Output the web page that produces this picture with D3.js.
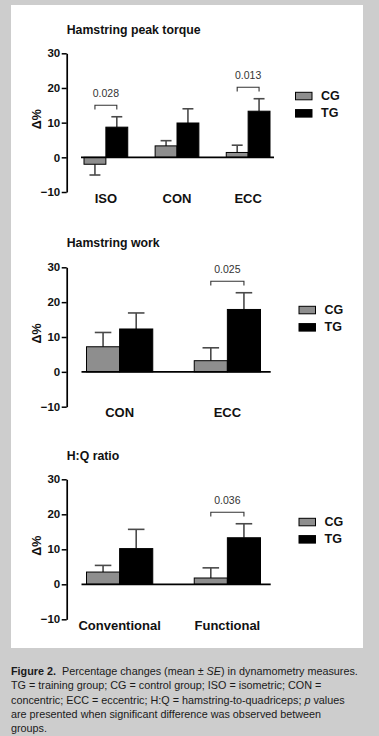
<!DOCTYPE html>
<html>
<head>
<meta charset="utf-8">
<script src="https://cdn.jsdelivr.net/npm/d3@7/dist/d3.min.js"></script>
<style>
  html, body { margin: 0; padding: 0; background: #cdcdcd; }
  svg { display: block; }
  text { font-family: "Liberation Sans", Arial, Helvetica, sans-serif; }
</style>
</head>
<body>
<svg id="chart" width="379" height="736"></svg>
<script>
// ---------- data ----------
const groups = ["CG", "TG"];
const yTicks = [-10, 0, 10, 20, 30];

const torqueCategories = ["ISO", "CON", "ECC"];
const torqueCG   = [-2.0, 3.3, 1.4];
const torqueCGse = [3.1, 1.5, 2.1];
const torqueTG   = [8.7, 9.9, 13.3];
const torqueTGse = [3.0, 4.1, 3.6];
const torqueP    = ["0.028", null, "0.013"];

const workCategories = ["CON", "ECC"];
const workCG   = [7.2, 3.2];
const workCGse = [4.1, 3.7];
const workTG   = [12.3, 17.9];
const workTGse = [4.6, 4.8];
const workP    = [null, "0.025"];

const ratioCategories = ["Conventional", "Functional"];
const ratioCG   = [3.5, 1.8];
const ratioCGse = [1.9, 2.9];
const ratioTG   = [10.2, 13.3];
const ratioTGse = [5.5, 4.0];
const ratioP    = [null, "0.036"];

const panelTitles = ["Hamstring peak torque", "Hamstring work", "H:Q ratio"];
const yLabel = "Δ%";

// ---------- drawing ----------
const svg = d3.select("#chart");
svg.append("rect").attr("x", 0).attr("y", 0).attr("width", 379).attr("height", 736).attr("fill", "#cdcdcd");
svg.append("rect").attr("x", 11).attr("y", 5).attr("width", 352).attr("height", 643).attr("fill", "#ffffff");

const colors = { CG: "#8e8e8e", TG: "#000000" };

function drawPanel(cfg) {
  const g = svg.append("g");
  const y = d3.scaleLinear().domain([-10, 30]).range([cfg.yBottom, cfg.yTop]);
  const x = d3.scaleBand().domain(cfg.categories).range(cfg.xRange).paddingInner(0.385).paddingOuter(0);
  const xs = d3.scaleBand().domain(groups).range([0, x.bandwidth()]).padding(0);

  // title
  g.append("text").attr("x", 66.7).attr("y", cfg.titleY)
    .attr("font-size", 12.3).attr("font-weight", "bold").attr("fill", "#111")
    .text(cfg.title);

  // y axis
  const yAxis = d3.axisLeft(y).tickValues(yTicks).tickSize(5).tickSizeOuter(0).tickPadding(1.5).tickFormat(d3.format("d"));
  const ya = g.append("g").attr("transform", "translate(66.7,0)").call(yAxis);
  ya.select(".domain").attr("stroke", "#000").attr("stroke-width", 1.7);
  ya.selectAll(".tick line").attr("stroke", "#000").attr("stroke-width", 1.5);
  ya.selectAll(".tick text").attr("font-size", 11.5).attr("font-weight", "bold").attr("fill", "#111")
    .attr("font-family", "Liberation Sans, Arial, sans-serif");

  // y label
  g.append("text")
    .attr("transform", `translate(41,${y(11)}) rotate(-90)`)
    .attr("text-anchor", "middle").attr("font-size", 12.5).attr("font-weight", "bold").attr("fill", "#111")
    .text(yLabel);

  const rows = cfg.categories.map((c, i) => ({
    cat: c,
    vals: [
      { grp: "CG", v: cfg.cg[i], se: cfg.cgse[i] },
      { grp: "TG", v: cfg.tg[i], se: cfg.tgse[i] }
    ],
    p: cfg.p[i]
  }));

  // bars
  rows.forEach(r => {
    r.vals.forEach(d => {
      const bx = x(r.cat) + xs(d.grp);
      const bw = xs.bandwidth();
      const cx = bx + bw / 2;
      // error bar (drawn first so bar covers inner part)
      const ey = d.v >= 0 ? d.v + d.se : d.v - d.se;
      g.append("line").attr("x1", cx).attr("x2", cx).attr("y1", y(d.v)).attr("y2", y(ey))
        .attr("stroke", "#4a4a4a").attr("stroke-width", 1.6);
      g.append("line").attr("x1", cx - bw / 4).attr("x2", cx + bw / 4).attr("y1", y(ey)).attr("y2", y(ey))
        .attr("stroke", "#4a4a4a").attr("stroke-width", 1.6);
      g.append("rect")
        .attr("x", bx).attr("width", bw)
        .attr("y", y(Math.max(0, d.v))).attr("height", Math.abs(y(d.v) - y(0)))
        .attr("fill", colors[d.grp]).attr("stroke", "#000").attr("stroke-width", 1);
    });
    // significance bracket
    if (r.p) {
      const c1 = x(r.cat) + xs("CG") + xs.bandwidth() / 2;
      const c2 = x(r.cat) + xs("TG") + xs.bandwidth() / 2;
      const top = d3.max(r.vals, d => d.v + d.se);
      const by = y(top) - 11.5;
      g.append("path")
        .attr("d", `M${c1},${by + 4.3}V${by}H${c2}V${by + 4.3}`)
        .attr("fill", "none").attr("stroke", "#333").attr("stroke-width", 1.1);
      g.append("text").attr("x", (c1 + c2) / 2).attr("y", by - 8)
        .attr("text-anchor", "middle").attr("font-size", 10.5).attr("fill", "#333")
        .text(r.p);
    }
  });

  // x axis line at zero
  g.append("line").attr("x1", cfg.axisX[0]).attr("x2", cfg.axisX[1]).attr("y1", y(0)).attr("y2", y(0))
    .attr("stroke", "#000").attr("stroke-width", 1.7);

  // category labels
  g.selectAll("text.cat").data(cfg.categories).enter().append("text")
    .attr("class", "cat")
    .attr("x", d => x(d) + x.bandwidth() / 2)
    .attr("y", y(-10) + 10.5)
    .attr("text-anchor", "middle").attr("font-size", 13).attr("font-weight", "bold").attr("fill", "#111")
    .text(d => d);

  // legend
  const lg = g.append("g").attr("transform", `translate(${cfg.legendX},${y(30) + 39})`);
  groups.forEach((grp, i) => {
    lg.append("rect").attr("x", 0).attr("y", i * 17.3).attr("width", 16.5).attr("height", 7.5)
      .attr("fill", colors[grp]).attr("stroke", "#000").attr("stroke-width", 1);
    lg.append("text").attr("x", 25.5).attr("y", i * 17.3 + 7.3)
      .attr("font-size", 12.5).attr("font-weight", "bold").attr("fill", "#111").text(grp);
  });
}

drawPanel({
  title: panelTitles[0], titleY: 34, yTop: 53.3, yBottom: 192,
  categories: torqueCategories, cg: torqueCG, cgse: torqueCGse, tg: torqueTG, tgse: torqueTGse, p: torqueP,
  xRange: [84, 270], axisX: [81, 274], legendX: 295.5
});
drawPanel({
  title: panelTitles[1], titleY: 247, yTop: 267.3, yBottom: 406.7,
  categories: workCategories, cg: workCG, cgse: workCGse, tg: workTG, tgse: workTGse, p: workP,
  xRange: [86.5, 260.5], axisX: [81.5, 270.7], legendX: 299
});
drawPanel({
  title: panelTitles[2], titleY: 460, yTop: 479.3, yBottom: 619.3,
  categories: ratioCategories, cg: ratioCG, cgse: ratioCGse, tg: ratioTG, tgse: ratioTGse, p: ratioP,
  xRange: [86.5, 260.5], axisX: [81.5, 270.7], legendX: 299
});

// ---------- caption ----------
const captionLines = [
  [["Figure 2.", "bold"], ["  Percentage changes (mean ± ", "normal"], ["SE", "italic"], [") in dynamometry measures.", "normal"]],
  [["TG = training group; CG = control group; ISO = isometric; CON =", "normal"]],
  [["concentric; ECC = eccentric; H:Q = hamstring-to-quadriceps; ", "normal"], ["p", "italic"], [" values", "normal"]],
  [["are presented when significant difference was observed between", "normal"]],
  [["groups.", "normal"]]
];
const cap = svg.append("g");
captionLines.forEach((line, i) => {
  const t = cap.append("text").attr("x", 11).attr("y", 675 + i * 14.3)
    .attr("font-size", 10.8).attr("fill", "#1a1a1a").attr("xml:space", "preserve");
  line.forEach(([s, st]) => {
    const sp = t.append("tspan").text(s);
    if (st === "bold") sp.attr("font-weight", "bold");
    if (st === "italic") sp.attr("font-style", "italic");
  });
});
</script>
</body>
</html>
